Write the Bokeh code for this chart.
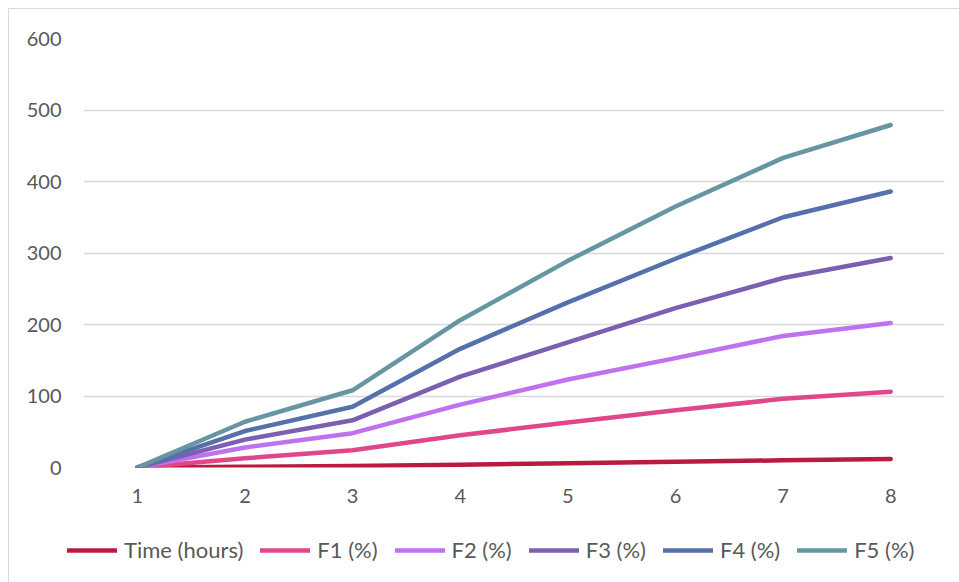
from bokeh.plotting import figure
from bokeh.layouts import column
from bokeh.models import Range1d, FixedTicker, Legend, LegendItem
from bokeh.embed import file_html
from bokeh.resources import INLINE

# Sampling points (hours index) and cumulative release values
x_points = [1, 2, 3, 4, 5, 6, 7, 8]
time_hours = [0, 1, 2, 4, 6, 8, 10, 12]
f1 = [0, 13, 24, 45, 63, 80, 96, 106]
f2 = [0, 28, 48, 88, 123, 153, 184, 202]
f3 = [0, 39, 66, 127, 175, 223, 265, 293]
f4 = [0, 51, 85, 166, 231, 292, 350, 386]
f5 = [0, 64, 108, 206, 289, 365, 433, 479]

series_names = ["Time (hours)", "F1 (%)", "F2 (%)", "F3 (%)", "F4 (%)", "F5 (%)"]
series_values = [time_hours, f1, f2, f3, f4, f5]
series_colors = ["#B71C40", "#E0478A", "#BF72F0", "#7B5FB0", "#5570AA", "#6796A3"]

y_ticks = [0, 100, 200, 300, 400, 500, 600]

FONT = "Lato"
TEXT = "#595959"
GRID = "#D9D9D9"
LINE_W = 4.5

# --- main chart -------------------------------------------------------------
p = figure(
    width=950, height=516,
    x_range=Range1d(0.5, 8.5), y_range=Range1d(0, 600),
    output_backend="svg", toolbar_location=None,
    min_border_left=74, min_border_top=29, min_border_right=15, min_border_bottom=58,
)
p.frame_align = False
p.outline_line_color = None
p.background_fill_color = "white"
p.border_fill_color = "white"

p.xgrid.visible = False
p.ygrid.grid_line_color = GRID
p.ygrid.grid_line_width = 1.5
p.ygrid.ticker = FixedTicker(ticks=y_ticks)

p.xaxis.ticker = FixedTicker(ticks=x_points)
p.yaxis.ticker = FixedTicker(ticks=y_ticks)
for ax in (p.xaxis[0], p.yaxis[0]):
    ax.axis_line_color = None
    ax.major_tick_line_color = None
    ax.minor_tick_line_color = None
    ax.major_label_text_font = FONT
    ax.major_label_text_font_size = "20px"
    ax.major_label_text_color = TEXT
p.xaxis.major_label_standoff = 15
p.yaxis.major_label_standoff = 16

for vals, color in zip(series_values, series_colors):
    p.line(x_points, vals, line_color=color, line_width=LINE_W,
           line_cap="round", line_join="round")

# --- legend strip underneath ------------------------------------------------
lg = figure(
    width=950, height=57,
    x_range=Range1d(0, 1), y_range=Range1d(0, 1),
    x_axis_location=None, y_axis_location=None,
    output_backend="svg", toolbar_location=None,
    min_border=0,
)
lg.frame_align = False
lg.grid.visible = False
lg.outline_line_color = None
lg.border_fill_color = "white"
lg.background_fill_color = "white"

# key renderers sit outside the strip's visible range; only their legend swatches show
items = []
for name, color in zip(series_names, series_colors):
    r = lg.line([5, 6], [5, 5], line_color=color, line_width=LINE_W, line_cap="round")
    items.append(LegendItem(label=name, renderers=[r]))

legend = Legend(
    items=items, orientation="horizontal", location=(58, 19),
    glyph_width=50, glyph_height=20, label_standoff=7, spacing=17,
    label_text_font=FONT, label_text_font_size="22px", label_text_color=TEXT,
    border_line_color=None, background_fill_alpha=0,
    margin=0, padding=4,
)
lg.add_layout(legend)

layout = column(
    p, lg, spacing=0, margin=(8, 0, 0, 8),
    styles={"border-left": "1.5px solid #D9D9D9", "border-top": "1.5px solid #D9D9D9"},
)

open("out.html", "w").write(file_html(layout, INLINE))
